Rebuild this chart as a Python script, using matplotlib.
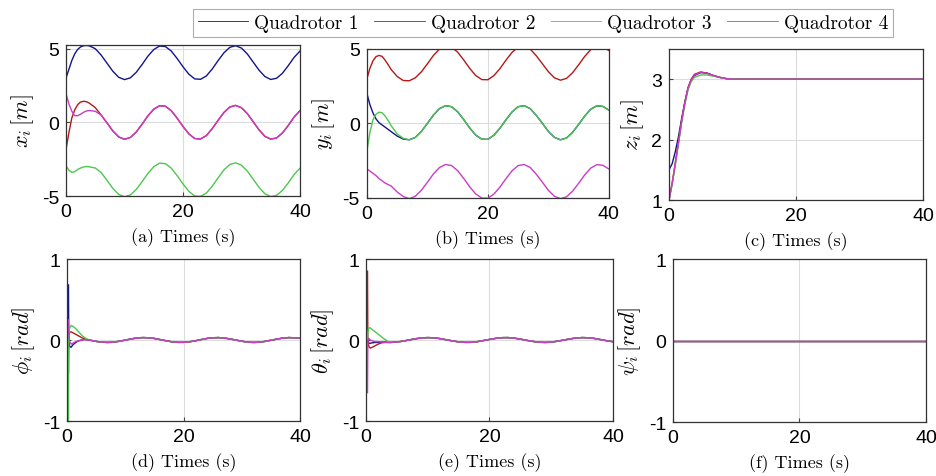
import matplotlib
matplotlib.use("Agg")
import matplotlib.pyplot as plt

plt.rcParams['mathtext.fontset'] = 'cm'
plt.rcParams['font.family'] = ['Liberation Sans', 'DejaVu Sans']
plt.rcParams['axes.unicode_minus'] = False

# time samples
t_pos = [0, 0.5, 1, 1.5, 2, 2.5, 3, 3.5, 4] + list(range(5, 41))
t_z = [0, 0.5, 1, 1.5, 2, 2.5, 3, 3.5, 4, 5, 6, 7, 8, 9, 10, 40]
t_att = [0.25, 0.3, 0.45, 0.7, 1, 1.5, 2, 2.5, 3, 3.5] + list(range(4, 41))
t_psi = [0, 40]

# x positions
x_q1 = [3.0, 3.6, 4.2, 4.65, 4.95, 5.12, 5.2, 5.22, 5.19, 5.00, 4.57, 4.02, 3.47, 3.06,
        2.90, 3.02, 3.39, 3.92, 4.49, 4.94, 5.18, 5.14, 4.84, 4.33, 3.77, 3.27, 2.95,
        2.92, 3.15, 3.62, 4.19, 4.72, 5.09, 5.20, 5.04, 4.64, 4.09, 3.54, 3.11, 2.91,
        2.99, 3.33, 3.85, 4.41, 4.84]
x_q2 = [-1.85, -0.7, 0.3, 0.85, 1.2, 1.38, 1.43, 1.4, 1.3, 1.0, 0.5, -0.03, -0.58, -0.99,
        -1.15, -1.03, -0.66, -0.13, 0.44, 0.89, 1.13, 1.09, 0.79, 0.28, -0.28, -0.78, -1.10,
        -1.13, -0.90, -0.43, 0.14, 0.67, 1.04, 1.15, 0.99, 0.59, 0.04, -0.51, -0.95, -1.14,
        -1.06, -0.72, -0.21, 0.36, 0.79]
x_q3 = [-2.95, -3.25, -3.4, -3.35, -3.2, -3.1, -3.03, -3.0, -3.02, -3.1, -3.4, -3.93, -4.48,
        -4.89, -5.05, -4.93, -4.56, -4.03, -3.47, -3.01, -2.77, -2.81, -3.11, -3.62, -4.18,
        -4.68, -5.00, -5.03, -4.80, -4.33, -3.77, -3.23, -2.86, -2.75, -2.91, -3.31, -3.86,
        -4.41, -4.85, -5.04, -4.96, -4.62, -4.11, -3.54, -3.11]
x_q4 = [1.95, 1.25, 0.75, 0.45, 0.45, 0.55, 0.68, 0.77, 0.8, 0.75, 0.5, -0.03, -0.58, -0.99,
        -1.15, -1.03, -0.66, -0.13, 0.44, 0.89, 1.13, 1.09, 0.79, 0.28, -0.28, -0.78, -1.10,
        -1.13, -0.90, -0.43, 0.14, 0.67, 1.04, 1.15, 0.99, 0.59, 0.04, -0.51, -0.95, -1.14,
        -1.06, -0.72, -0.21, 0.36, 0.79]

# y positions
y_q1 = [2.0, 1.25, 0.7, 0.3, 0.05, -0.1, -0.25, -0.4, -0.55, -0.85, -1.05, -1.10, -0.94,
        -0.54, 0.00, 0.56, 0.99, 1.19, 1.12, 0.78, 0.26, -0.31, -0.79, -1.06, -1.07, -0.79,
        -0.32, 0.25, 0.77, 1.12, 1.19, 0.99, 0.54, 0.01, -0.54, -0.94, -1.10, -0.98, -0.60,
        -0.07, 0.49, 0.95, 1.18, 1.14, 0.89]
y_q2 = [3.0, 3.7, 4.2, 4.48, 4.56, 4.5, 4.25, 3.95, 3.62, 3.15, 2.88, 2.86, 3.06, 3.46,
        4.00, 4.56, 4.99, 5.19, 5.12, 4.78, 4.26, 3.69, 3.21, 2.94, 2.93, 3.21, 3.68, 4.25,
        4.77, 5.12, 5.19, 4.99, 4.54, 4.01, 3.47, 3.06, 2.90, 3.02, 3.40, 3.93, 4.49, 4.95,
        5.18, 5.14, 4.89]
y_q3 = [-1.85, -0.6, 0.25, 0.62, 0.75, 0.72, 0.5, 0.2, -0.15, -0.7, -1.0, -1.10, -0.94,
        -0.54, 0.00, 0.56, 0.99, 1.19, 1.12, 0.78, 0.26, -0.31, -0.79, -1.06, -1.07, -0.79,
        -0.32, 0.25, 0.77, 1.12, 1.19, 0.99, 0.54, 0.01, -0.54, -0.94, -1.10, -0.98, -0.60,
        -0.07, 0.49, 0.95, 1.18, 1.14, 0.89]
y_q4 = [-3.05, -3.2, -3.35, -3.5, -3.7, -3.85, -4.0, -4.1, -4.2, -4.6, -4.9, -5.05, -4.89,
        -4.49, -3.95, -3.39, -2.96, -2.76, -2.83, -3.17, -3.69, -4.26, -4.74, -5.01, -5.02,
        -4.74, -4.27, -3.70, -3.18, -2.83, -2.76, -2.96, -3.41, -3.94, -4.49, -4.89, -5.05,
        -4.93, -4.55, -4.02, -3.46, -3.00, -2.77, -2.81, -3.06]

# altitude
z_q1 = [1.5, 1.6, 1.8, 2.05, 2.35, 2.62, 2.85, 2.98, 3.06, 3.11, 3.1, 3.06, 3.03, 3.01, 3.0, 3.0]
z_q2 = [1.0, 1.28, 1.62, 1.97, 2.32, 2.62, 2.86, 3.0, 3.08, 3.12, 3.1, 3.06, 3.03, 3.01, 3.0, 3.0]
z_q3 = [1.0, 1.25, 1.58, 1.93, 2.28, 2.58, 2.82, 2.96, 3.03, 3.07, 3.07, 3.05, 3.03, 3.01, 3.0, 3.0]
z_q4 = [1.0, 1.27, 1.6, 1.95, 2.3, 2.6, 2.85, 2.99, 3.07, 3.11, 3.1, 3.06, 3.03, 3.01, 3.0, 3.0]

# roll / pitch: start-up part per quadrotor, shared tail from t = 4 s
phi_tail = [-0.003, -0.017, -0.027, -0.030, -0.026, -0.015, -0.001, 0.013, 0.025, 0.030,
            0.028, 0.019, 0.005, -0.009, -0.022, -0.029, -0.029, -0.022, -0.010, 0.005,
            0.019, 0.028, 0.030, 0.024, 0.013, -0.001, -0.015, -0.026, -0.030, -0.027,
            -0.017, -0.003, 0.011, 0.023, 0.030, 0.028, 0.022]
theta_tail = [-0.030, -0.025, -0.014, 0.001, 0.015, 0.026, 0.030, 0.027, 0.017, 0.003,
              -0.011, -0.023, -0.029, -0.029, -0.021, -0.007, 0.007, 0.020, 0.029, 0.030,
              0.023, 0.011, -0.004, -0.017, -0.027, -0.030, -0.026, -0.015, -0.001, 0.013,
              0.025, 0.030, 0.028, 0.019, 0.005, -0.009, -0.021]
phi_q1 = [0.68, 0.0, -0.08, -0.09, -0.06, -0.03, -0.01, 0.0, 0.005, 0.003] + phi_tail
phi_q2 = [-0.4, 0.05, 0.1, 0.1, 0.09, 0.07, 0.05, 0.03, 0.015, 0.005] + phi_tail
phi_q3 = [-1.05, 0.05, 0.15, 0.18, 0.17, 0.14, 0.1, 0.06, 0.03, 0.01] + phi_tail
phi_q4 = [0.25, 0.1, -0.02, -0.05, -0.04, -0.02, -0.01, 0.0, 0.005, 0.003] + phi_tail
theta_q1 = [0.0, -0.03, -0.04, -0.04, -0.035, -0.03, -0.03, -0.025, -0.025, -0.028] + theta_tail
theta_q2 = [0.85, 0.0, -0.08, -0.1, -0.09, -0.07, -0.05, -0.035, -0.03, -0.03] + theta_tail
theta_q3 = [0.0, 0.1, 0.15, 0.15, 0.13, 0.1, 0.07, 0.04, 0.01, -0.015] + theta_tail
theta_q4 = [-0.65, 0.0, 0.02, 0.0, -0.01, -0.02, -0.02, -0.025, -0.028, -0.03] + theta_tail

# yaw
psi_q = [0.0, 0.0]

names = ['Quadrotor 1', 'Quadrotor 2', 'Quadrotor 3', 'Quadrotor 4']
colors = ['#14148c', '#b41818', '#4cc84c', '#c83cc8']

panels = [
    (t_pos, [x_q1, x_q2, x_q3, x_q4], r'$x_i\,[m]$', '(a) Times (s)', (-5, 5.25), [-5, 0, 5]),
    (t_pos, [y_q1, y_q2, y_q3, y_q4], r'$y_i\,[m]$', '(b) Times (s)', (-5, 5), [-5, 0, 5]),
    (t_z, [z_q1, z_q2, z_q3, z_q4], r'$z_i\,[m]$', '(c) Times (s)', (1, 3.5), [1, 2, 3]),
    (t_att, [phi_q1, phi_q2, phi_q3, phi_q4], r'$\phi_i\,[rad]$', '(d) Times (s)', (-1, 1), [-1, 0, 1]),
    (t_att, [theta_q1, theta_q2, theta_q3, theta_q4], r'$\theta_i\,[rad]$', '(e) Times (s)', (-1, 1), [-1, 0, 1]),
    (t_psi, [psi_q, psi_q, psi_q, psi_q], r'$\psi_i\,[rad]$', '(f) Times (s)', (-1, 1), [-1, 0, 1]),
]

# axes boxes in figure fractions
boxes = [
    [0.0705, 0.587, 0.250, 0.3166],
    [0.392, 0.583, 0.2585, 0.3124],
    [0.7147, 0.5786, 0.2714, 0.3166],
    [0.0716, 0.1153, 0.249, 0.3396],
    [0.391, 0.1153, 0.2639, 0.3396],
    [0.719, 0.1132, 0.2703, 0.3417],
]

fig = plt.figure(figsize=(9.36, 4.77), dpi=100)
lines = []
for (t, series, ylab, cap, ylim, yt), box in zip(panels, boxes):
    ax = fig.add_axes(box)
    for s, c, n in zip(series, colors, names):
        l, = ax.plot(t, s, color=c, lw=1.0, label=n)
        if len(lines) < 4:
            lines.append(l)
    ax.set_xlim(0, 40)
    ax.set_ylim(*ylim)
    ax.set_xticks([0, 20, 40])
    ax.set_yticks(yt)
    ax.grid(True, color='#dcdcdc', lw=0.8)
    ax.set_axisbelow(True)
    ax.tick_params(direction='in', length=3, labelsize=14, pad=5, color='#444444')
    for sp in ax.spines.values():
        sp.set_color('#333333')
        sp.set_linewidth(0.9)
    ax.set_ylabel(ylab, fontsize=16, labelpad=4)
    ax.set_xlabel(cap, family='cmr10', fontsize=13, labelpad=5)

leg = fig.legend(lines, names, loc='center', bbox_to_anchor=(0.58, 0.95), ncol=4,
                 prop={'family': 'cmr10', 'size': 14}, frameon=True, fancybox=False,
                 borderpad=0.25, borderaxespad=0, handlelength=2.6, columnspacing=0.8,
                 handletextpad=0.3)
leg.get_frame().set_edgecolor('#999999')
leg.get_frame().set_linewidth(0.8)
for lh in leg.get_lines():
    lh.set_linewidth(0.6)

fig.savefig('out.png', dpi=100)
